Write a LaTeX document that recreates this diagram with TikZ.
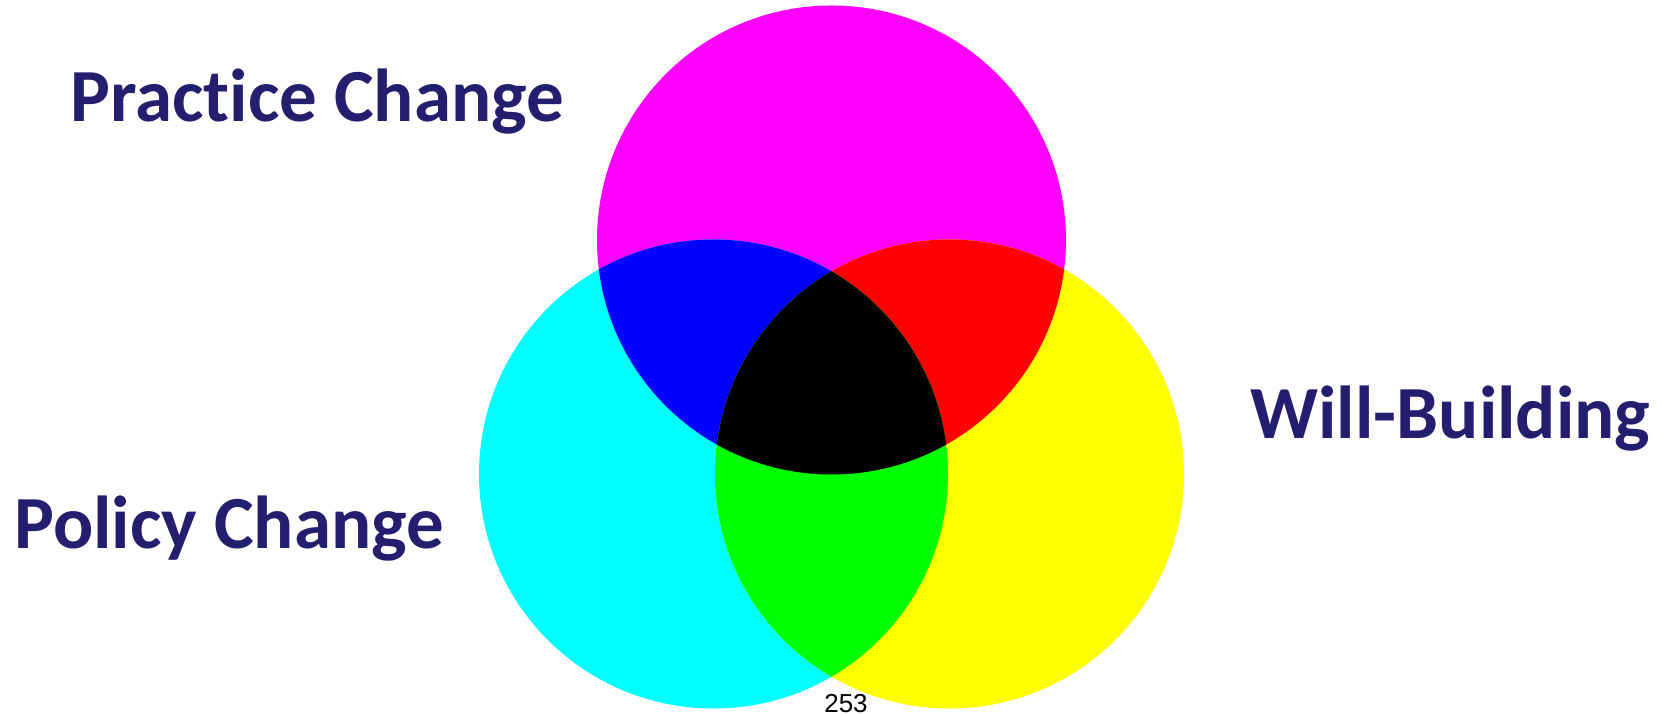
\documentclass[tikz,border=0pt]{standalone}
\usepackage{fontspec}
\setmainfont{Carlito}[Ligatures=NoCommon]
\newfontfamily\pagefont{Liberation Sans}
\definecolor{vennNavy}{RGB}{36,30,110}
\definecolor{vennMagenta}{RGB}{255,0,255}
\definecolor{vennCyan}{RGB}{0,255,255}
\definecolor{vennYellow}{RGB}{255,255,0}
\definecolor{vennBlue}{RGB}{0,0,255}
\definecolor{vennRed}{RGB}{255,0,0}
\definecolor{vennGreen}{RGB}{0,255,0}

\begin{document}
\begin{tikzpicture}[x=0.5pt,y=-0.5pt,
  vennlabel/.style={anchor=base west,inner sep=0pt,text=vennNavy,
    font=\fontsize{37.5}{40}\selectfont\bfseries}]
  \useasboundingbox (0,0) rectangle (1663,715);
  \def\rad{234.5}
  % circle centres
  \coordinate (M) at (831.5,240);
  \coordinate (C) at (713.5,474);
  \coordinate (Y) at (949.5,474);
  % the three base circles
  \fill[vennMagenta] (M) circle (\rad);
  \fill[vennCyan] (C) circle (\rad);
  \fill[vennYellow] (Y) circle (\rad);
  % pairwise overlaps
  \begin{scope}
    \clip (M) circle (\rad);
    \fill[vennBlue] (C) circle (\rad);
    \fill[vennRed] (Y) circle (\rad);
  \end{scope}
  \begin{scope}
    \clip (C) circle (\rad);
    \fill[vennGreen] (Y) circle (\rad);
  \end{scope}
  % centre where all three meet
  \begin{scope}
    \clip (M) circle (\rad);
    \clip (C) circle (\rad);
    \fill[black] (Y) circle (\rad);
  \end{scope}
  % labels
  \node[vennlabel] (practice) at (70,122) {Practice Change};
  \node[vennlabel] (policy) at (14,548) {Policy Change};
  \node[vennlabel] (will) at (1250,438) {Will-Building};
  \node[anchor=base,inner sep=0pt,font=\pagefont\fontsize{13}{15}\selectfont] (pagenum) at (846,712) {253};
\end{tikzpicture}
\end{document}
